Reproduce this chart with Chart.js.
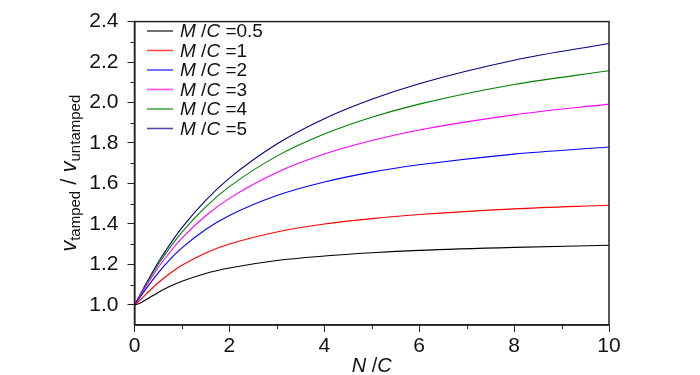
<!DOCTYPE html>
<html lang="en">
<head>
<meta charset="UTF-8">
<title>v tamped / v untamped</title>
<script src="https://cdn.jsdelivr.net/npm/chart.js"></script>
<style>
  html, body { margin: 0; padding: 0; background: #fff; }
</style>
</head>
<body>
<canvas id="ratioChart" width="700" height="375"></canvas>
<script>
// N/C values where the curves were read
const nc = [0, 0.1, 0.25, 0.5, 0.75, 1, 1.5, 2, 3, 4, 5, 6, 8, 10];

// v_tamped / v_untamped for each M/C
const ratio05 = [1, 1.006, 1.026, 1.061, 1.091, 1.116, 1.155, 1.182, 1.219, 1.241, 1.257, 1.269, 1.284, 1.294];
const ratio1 = [1, 1.019, 1.054, 1.109, 1.156, 1.195, 1.256, 1.300, 1.360, 1.399, 1.426, 1.446, 1.474, 1.492];
const ratio2 = [1, 1.031, 1.081, 1.158, 1.225, 1.281, 1.372, 1.441, 1.540, 1.607, 1.656, 1.692, 1.745, 1.780];
const ratio3 = [1, 1.036, 1.094, 1.184, 1.261, 1.329, 1.440, 1.526, 1.654, 1.745, 1.812, 1.864, 1.939, 1.992];
const ratio4 = [1, 1.040, 1.102, 1.199, 1.284, 1.359, 1.484, 1.584, 1.735, 1.844, 1.927, 1.992, 2.089, 2.157];
const ratio5 = [1, 1.042, 1.107, 1.210, 1.300, 1.381, 1.516, 1.626, 1.795, 1.920, 2.016, 2.093, 2.209, 2.292];

const mcLabels = ["0.5", "1", "2", "3", "4", "5"];
const seriesColors = ["#000000", "#ff0000", "#0000ff", "#ff00ff", "#008000", "#000080"];
const allSeries = [ratio05, ratio1, ratio2, ratio3, ratio4, ratio5];

// tick labels
const yTicks = [1.0, 1.2, 1.4, 1.6, 1.8, 2.0, 2.2, 2.4];
const yMinorTicks = [1.1, 1.3, 1.5, 1.7, 1.9, 2.1, 2.3];
const xMinorTicks = [1, 3, 5, 7, 9];

const FONT = '"Liberation Sans Narrow", "Arial Narrow", "Liberation Sans", Arial, sans-serif';
const AXIS_COLOR = "#222";

function drawPieces(ctx, pieces, x, y) {
  // pieces: [text, font, dy]
  let w = 0;
  pieces.forEach(p => { ctx.font = p[1]; w += ctx.measureText(p[0]).width; });
  let cx = x - w / 2;
  pieces.forEach(p => {
    ctx.font = p[1];
    ctx.fillText(p[0], cx, y + (p[2] || 0));
    cx += ctx.measureText(p[0]).width;
  });
}

const extras = {
  id: "extras",
  afterDraw(chart) {
    const ctx = chart.ctx;
    const a = chart.chartArea;
    const xs = chart.scales.x;
    const ys = chart.scales.y;
    ctx.save();

    // frame
    ctx.strokeStyle = AXIS_COLOR;
    ctx.lineWidth = 1.5;
    ctx.strokeRect(a.left, a.top, a.right - a.left, a.bottom - a.top);

    // minor ticks
    ctx.lineWidth = 1;
    ctx.beginPath();
    xMinorTicks.forEach(v => {
      const px = Math.round(xs.getPixelForValue(v)) + 0.5;
      ctx.moveTo(px, a.bottom);
      ctx.lineTo(px, a.bottom + 4);
    });
    yMinorTicks.forEach(v => {
      const py = Math.round(ys.getPixelForValue(v)) + 0.5;
      ctx.moveTo(a.left - 4, py);
      ctx.lineTo(a.left, py);
    });
    ctx.stroke();

    // legend
    ctx.fillStyle = "#111";
    ctx.textBaseline = "middle";
    ctx.textAlign = "left";
    chart.data.datasets.forEach((ds, i) => {
      const y = 31 + i * 19.5;
      ctx.strokeStyle = seriesColors[i];
      ctx.globalAlpha = 0.7;
      ctx.lineWidth = 1.6;
      ctx.beginPath();
      ctx.moveTo(147, y);
      ctx.lineTo(173, y);
      ctx.stroke();
      ctx.globalAlpha = 1;
      const parts = [
        ["M", "italic 19px " + FONT],
        [" /", "19px " + FONT],
        ["C", "italic 19px " + FONT],
        [" =" + mcLabels[i], "19px " + FONT]
      ];
      let cx = 180;
      parts.forEach(p => {
        ctx.font = p[1];
        ctx.fillText(p[0], cx, y + 1);
        cx += ctx.measureText(p[0]).width;
      });
    });

    // x title
    ctx.textBaseline = "alphabetic";
    drawPieces(ctx, [
      ["N", "italic 20px " + FONT],
      [" /", "20px " + FONT],
      ["C", "italic 20px " + FONT]
    ], (a.left + a.right) / 2, 372);

    // y title
    ctx.translate(76, (a.top + a.bottom) / 2);
    ctx.rotate(-Math.PI / 2);
    drawPieces(ctx, [
      ["v", "italic 22px " + FONT],
      ["tamped", "15px " + FONT, 4],
      [" / ", "22px " + FONT],
      ["v", "italic 22px " + FONT],
      ["untamped", "15px " + FONT, 4]
    ], 0, 0);

    ctx.restore();
  }
};

const ctx = document.getElementById("ratioChart").getContext("2d");
new Chart(ctx, {
  type: "line",
  data: {
    datasets: allSeries.map((vals, i) => ({
      label: "M/C=" + mcLabels[i],
      data: vals.map((v, j) => ({ x: nc[j], y: v })),
      borderColor: seriesColors[i],
      backgroundColor: seriesColors[i],
      borderWidth: 1.1,
      pointRadius: 0,
      fill: false,
      cubicInterpolationMode: "monotone"
    }))
  },
  options: {
    responsive: false,
    animation: false,
    layout: { padding: { top: 14, right: 91, bottom: 0, left: 0 } },
    plugins: { legend: { display: false }, tooltip: { enabled: false } },
    scales: {
      x: {
        type: "linear",
        min: 0,
        max: 10,
        afterFit: s => { s.height = 50; },
        grid: { drawOnChartArea: false, drawTicks: true, tickLength: 7, color: AXIS_COLOR },
        border: { color: AXIS_COLOR, width: 1.5 },
        ticks: { stepSize: 2, padding: 2, color: "#111", font: { family: FONT, size: 21 } }
      },
      y: {
        min: 0.9,
        max: 2.4,
        afterFit: s => { s.width = 134.5; },
        afterBuildTicks: s => { s.ticks = yTicks.map(v => ({ value: v })); },
        grid: { drawOnChartArea: false, drawTicks: true, tickLength: 7, color: AXIS_COLOR },
        border: { color: AXIS_COLOR, width: 1.5 },
        ticks: {
          padding: 9,
          color: "#111",
          font: { family: FONT, size: 21 },
          callback: v => Number(v).toFixed(1)
        }
      }
    }
  },
  plugins: [extras]
});
</script>
</body>
</html>
